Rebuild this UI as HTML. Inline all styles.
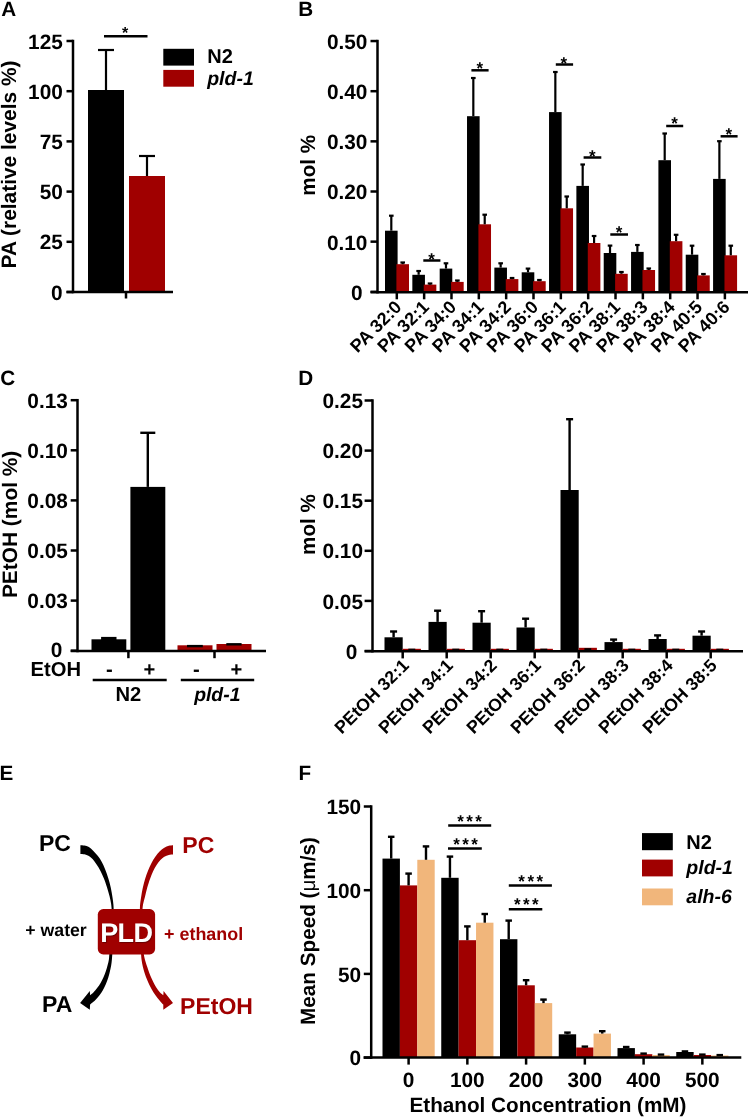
<!DOCTYPE html>
<html><head><meta charset="utf-8"><title>Figure</title>
<style>
html,body{margin:0;padding:0;background:#fff;overflow:hidden;}
svg{display:block;will-change:transform;}
text{font-family:"Liberation Sans",sans-serif;font-weight:bold;text-rendering:geometricPrecision;}
</style></head><body>
<svg width="750" height="1118" viewBox="0 0 750 1118">
<rect width="750" height="1118" fill="#fff"/>
<text x="1.2" y="15.8" font-size="20.7" text-anchor="start" >A</text>
<text x="298.3" y="16" font-size="20.7" text-anchor="start" >B</text>
<text x="0.2" y="384.7" font-size="20.7" text-anchor="start" >C</text>
<text x="298.3" y="385" font-size="20.7" text-anchor="start" >D</text>
<text x="-0.5" y="780.2" font-size="20.7" text-anchor="start" >E</text>
<text x="298.5" y="779.8" font-size="20.7" text-anchor="start" >F</text>
<line x1="73" y1="39.75" x2="73" y2="293.25" stroke="#000" stroke-width="2.5"/>
<line x1="66.5" y1="292" x2="73" y2="292" stroke="#000" stroke-width="2.5"/>
<text x="62.6" y="299.6" font-size="20.8" text-anchor="end" >0</text>
<line x1="66.5" y1="241.8" x2="73" y2="241.8" stroke="#000" stroke-width="2.5"/>
<text x="62.8" y="249.4" font-size="20.8" text-anchor="end" >25</text>
<line x1="66.5" y1="191.6" x2="73" y2="191.6" stroke="#000" stroke-width="2.5"/>
<text x="62.8" y="199.2" font-size="20.8" text-anchor="end" >50</text>
<line x1="66.5" y1="141.4" x2="73" y2="141.4" stroke="#000" stroke-width="2.5"/>
<text x="62.8" y="149" font-size="20.8" text-anchor="end" >75</text>
<line x1="66.5" y1="91.2" x2="73" y2="91.2" stroke="#000" stroke-width="2.5"/>
<text x="62.8" y="98.8" font-size="20.8" text-anchor="end" >100</text>
<line x1="66.5" y1="41" x2="73" y2="41" stroke="#000" stroke-width="2.5"/>
<text x="62.8" y="48.6" font-size="20.8" text-anchor="end" >125</text>
<line x1="126" y1="292" x2="126" y2="298.5" stroke="#000" stroke-width="2.5"/>
<rect x="88" y="90" width="36" height="202" fill="#000"/>
<line x1="106" y1="90" x2="106" y2="50" stroke="#000" stroke-width="2.2"/>
<line x1="98" y1="50" x2="114" y2="50" stroke="#000" stroke-width="2.2"/>
<rect x="129" y="176" width="36" height="116" fill="#a00000"/>
<line x1="147" y1="176" x2="147" y2="156" stroke="#000" stroke-width="2.2"/>
<line x1="139" y1="156" x2="155" y2="156" stroke="#000" stroke-width="2.2"/>
<line x1="104" y1="36.3" x2="147.5" y2="36.3" stroke="#000" stroke-width="2.5"/>
<text x="125" y="38.16" font-size="16" text-anchor="middle" font-weight="normal">*</text>
<rect x="163.3" y="48.8" width="30.7" height="16.8" fill="#000"/>
<rect x="163.3" y="69.9" width="30.7" height="16.8" fill="#a00000"/>
<text x="207.3" y="63.4" font-size="20" text-anchor="start" >N2</text>
<text x="207.2" y="85" font-size="19.5" text-anchor="start" ><tspan font-style="italic">pld-1</tspan></text>
<text transform="translate(16.3,164.5) rotate(-90)" font-size="20.9" text-anchor="middle">PA (relative levels %)</text>
<line x1="377.5" y1="39.8" x2="377.5" y2="293.45" stroke="#000" stroke-width="2.5"/>
<line x1="370.5" y1="291.8" x2="377.5" y2="291.8" stroke="#000" stroke-width="2.5"/>
<text x="362.6" y="299.7" font-size="20.8" text-anchor="end" >0</text>
<line x1="370.5" y1="241.65" x2="377.5" y2="241.65" stroke="#000" stroke-width="2.5"/>
<text x="367.4" y="249.55" font-size="20.8" text-anchor="end" >0.10</text>
<line x1="370.5" y1="191.5" x2="377.5" y2="191.5" stroke="#000" stroke-width="2.5"/>
<text x="367.4" y="199.4" font-size="20.8" text-anchor="end" >0.20</text>
<line x1="370.5" y1="141.35" x2="377.5" y2="141.35" stroke="#000" stroke-width="2.5"/>
<text x="367.4" y="149.25" font-size="20.8" text-anchor="end" >0.30</text>
<line x1="370.5" y1="91.2" x2="377.5" y2="91.2" stroke="#000" stroke-width="2.5"/>
<text x="367.4" y="99.1" font-size="20.8" text-anchor="end" >0.40</text>
<line x1="370.5" y1="41.05" x2="377.5" y2="41.05" stroke="#000" stroke-width="2.5"/>
<text x="367.4" y="48.95" font-size="20.8" text-anchor="end" >0.50</text>
<rect x="385" y="230.7" width="12.6" height="61.5" fill="#000"/>
<rect x="396.4" y="264.2" width="12.6" height="28" fill="#a00000"/>
<line x1="391.3" y1="230.7" x2="391.3" y2="215.7" stroke="#000" stroke-width="2.2"/>
<line x1="389" y1="215.7" x2="393.6" y2="215.7" stroke="#000" stroke-width="2.2"/>
<line x1="402.7" y1="264.2" x2="402.7" y2="262.5" stroke="#000" stroke-width="2.2"/>
<line x1="400.4" y1="262.5" x2="405" y2="262.5" stroke="#000" stroke-width="2.2"/>
<rect x="412.34" y="274.8" width="12.6" height="17.4" fill="#000"/>
<rect x="423.74" y="284.6" width="12.6" height="7.6" fill="#a00000"/>
<line x1="418.64" y1="274.8" x2="418.64" y2="271" stroke="#000" stroke-width="2.2"/>
<line x1="416.34" y1="271" x2="420.94" y2="271" stroke="#000" stroke-width="2.2"/>
<line x1="430.04" y1="284.6" x2="430.04" y2="283.5" stroke="#000" stroke-width="2.2"/>
<line x1="427.74" y1="283.5" x2="432.34" y2="283.5" stroke="#000" stroke-width="2.2"/>
<rect x="439.68" y="268.6" width="12.6" height="23.6" fill="#000"/>
<rect x="451.08" y="281.9" width="12.6" height="10.3" fill="#a00000"/>
<line x1="445.98" y1="268.6" x2="445.98" y2="263.3" stroke="#000" stroke-width="2.2"/>
<line x1="443.68" y1="263.3" x2="448.28" y2="263.3" stroke="#000" stroke-width="2.2"/>
<line x1="457.38" y1="281.9" x2="457.38" y2="280.5" stroke="#000" stroke-width="2.2"/>
<line x1="455.08" y1="280.5" x2="459.68" y2="280.5" stroke="#000" stroke-width="2.2"/>
<rect x="467.02" y="116.2" width="12.6" height="176" fill="#000"/>
<rect x="478.42" y="224.3" width="12.6" height="67.9" fill="#a00000"/>
<line x1="473.32" y1="116.2" x2="473.32" y2="78" stroke="#000" stroke-width="2.2"/>
<line x1="471.02" y1="78" x2="475.62" y2="78" stroke="#000" stroke-width="2.2"/>
<line x1="484.72" y1="224.3" x2="484.72" y2="214.7" stroke="#000" stroke-width="2.2"/>
<line x1="482.42" y1="214.7" x2="487.02" y2="214.7" stroke="#000" stroke-width="2.2"/>
<rect x="494.36" y="267.6" width="12.6" height="24.6" fill="#000"/>
<rect x="505.76" y="279.1" width="12.6" height="13.1" fill="#a00000"/>
<line x1="500.66" y1="267.6" x2="500.66" y2="263.3" stroke="#000" stroke-width="2.2"/>
<line x1="498.36" y1="263.3" x2="502.96" y2="263.3" stroke="#000" stroke-width="2.2"/>
<line x1="512.06" y1="279.1" x2="512.06" y2="278" stroke="#000" stroke-width="2.2"/>
<line x1="509.76" y1="278" x2="514.36" y2="278" stroke="#000" stroke-width="2.2"/>
<rect x="521.7" y="272.3" width="12.6" height="19.9" fill="#000"/>
<rect x="533.1" y="281.2" width="12.6" height="11" fill="#a00000"/>
<line x1="528" y1="272.3" x2="528" y2="268.6" stroke="#000" stroke-width="2.2"/>
<line x1="525.7" y1="268.6" x2="530.3" y2="268.6" stroke="#000" stroke-width="2.2"/>
<line x1="539.4" y1="281.2" x2="539.4" y2="280" stroke="#000" stroke-width="2.2"/>
<line x1="537.1" y1="280" x2="541.7" y2="280" stroke="#000" stroke-width="2.2"/>
<rect x="549.04" y="112.1" width="12.6" height="180.1" fill="#000"/>
<rect x="560.44" y="208.3" width="12.6" height="83.9" fill="#a00000"/>
<line x1="555.34" y1="112.1" x2="555.34" y2="72" stroke="#000" stroke-width="2.2"/>
<line x1="553.04" y1="72" x2="557.64" y2="72" stroke="#000" stroke-width="2.2"/>
<line x1="566.74" y1="208.3" x2="566.74" y2="196.5" stroke="#000" stroke-width="2.2"/>
<line x1="564.44" y1="196.5" x2="569.04" y2="196.5" stroke="#000" stroke-width="2.2"/>
<rect x="576.38" y="185.9" width="12.6" height="106.3" fill="#000"/>
<rect x="587.78" y="243" width="12.6" height="49.2" fill="#a00000"/>
<line x1="582.68" y1="185.9" x2="582.68" y2="164.5" stroke="#000" stroke-width="2.2"/>
<line x1="580.38" y1="164.5" x2="584.98" y2="164.5" stroke="#000" stroke-width="2.2"/>
<line x1="594.08" y1="243" x2="594.08" y2="236" stroke="#000" stroke-width="2.2"/>
<line x1="591.78" y1="236" x2="596.38" y2="236" stroke="#000" stroke-width="2.2"/>
<rect x="603.72" y="253" width="12.6" height="39.2" fill="#000"/>
<rect x="615.12" y="273.8" width="12.6" height="18.4" fill="#a00000"/>
<line x1="610.02" y1="253" x2="610.02" y2="245.6" stroke="#000" stroke-width="2.2"/>
<line x1="607.72" y1="245.6" x2="612.32" y2="245.6" stroke="#000" stroke-width="2.2"/>
<line x1="621.42" y1="273.8" x2="621.42" y2="272" stroke="#000" stroke-width="2.2"/>
<line x1="619.12" y1="272" x2="623.72" y2="272" stroke="#000" stroke-width="2.2"/>
<rect x="631.06" y="251.9" width="12.6" height="40.3" fill="#000"/>
<rect x="642.46" y="270" width="12.6" height="22.2" fill="#a00000"/>
<line x1="637.36" y1="251.9" x2="637.36" y2="245" stroke="#000" stroke-width="2.2"/>
<line x1="635.06" y1="245" x2="639.66" y2="245" stroke="#000" stroke-width="2.2"/>
<line x1="648.76" y1="270" x2="648.76" y2="268.5" stroke="#000" stroke-width="2.2"/>
<line x1="646.46" y1="268.5" x2="651.06" y2="268.5" stroke="#000" stroke-width="2.2"/>
<rect x="658.4" y="160.2" width="12.6" height="132" fill="#000"/>
<rect x="669.8" y="241.2" width="12.6" height="51" fill="#a00000"/>
<line x1="664.7" y1="160.2" x2="664.7" y2="133.5" stroke="#000" stroke-width="2.2"/>
<line x1="662.4" y1="133.5" x2="667" y2="133.5" stroke="#000" stroke-width="2.2"/>
<line x1="676.1" y1="241.2" x2="676.1" y2="234.8" stroke="#000" stroke-width="2.2"/>
<line x1="673.8" y1="234.8" x2="678.4" y2="234.8" stroke="#000" stroke-width="2.2"/>
<rect x="685.74" y="254.7" width="12.6" height="37.5" fill="#000"/>
<rect x="697.14" y="275.4" width="12.6" height="16.8" fill="#a00000"/>
<line x1="692.04" y1="254.7" x2="692.04" y2="245.7" stroke="#000" stroke-width="2.2"/>
<line x1="689.74" y1="245.7" x2="694.34" y2="245.7" stroke="#000" stroke-width="2.2"/>
<line x1="703.44" y1="275.4" x2="703.44" y2="274" stroke="#000" stroke-width="2.2"/>
<line x1="701.14" y1="274" x2="705.74" y2="274" stroke="#000" stroke-width="2.2"/>
<rect x="713.08" y="178.9" width="12.6" height="113.3" fill="#000"/>
<rect x="724.48" y="255.3" width="12.6" height="36.9" fill="#a00000"/>
<line x1="719.38" y1="178.9" x2="719.38" y2="141.2" stroke="#000" stroke-width="2.2"/>
<line x1="717.08" y1="141.2" x2="721.68" y2="141.2" stroke="#000" stroke-width="2.2"/>
<line x1="730.78" y1="255.3" x2="730.78" y2="245.7" stroke="#000" stroke-width="2.2"/>
<line x1="728.48" y1="245.7" x2="733.08" y2="245.7" stroke="#000" stroke-width="2.2"/>
<line x1="396.8" y1="292.2" x2="396.8" y2="299.3" stroke="#000" stroke-width="2.5"/>
<line x1="424.14" y1="292.2" x2="424.14" y2="299.3" stroke="#000" stroke-width="2.5"/>
<line x1="451.48" y1="292.2" x2="451.48" y2="299.3" stroke="#000" stroke-width="2.5"/>
<line x1="478.82" y1="292.2" x2="478.82" y2="299.3" stroke="#000" stroke-width="2.5"/>
<line x1="506.16" y1="292.2" x2="506.16" y2="299.3" stroke="#000" stroke-width="2.5"/>
<line x1="533.5" y1="292.2" x2="533.5" y2="299.3" stroke="#000" stroke-width="2.5"/>
<line x1="560.84" y1="292.2" x2="560.84" y2="299.3" stroke="#000" stroke-width="2.5"/>
<line x1="588.18" y1="292.2" x2="588.18" y2="299.3" stroke="#000" stroke-width="2.5"/>
<line x1="615.52" y1="292.2" x2="615.52" y2="299.3" stroke="#000" stroke-width="2.5"/>
<line x1="642.86" y1="292.2" x2="642.86" y2="299.3" stroke="#000" stroke-width="2.5"/>
<line x1="670.2" y1="292.2" x2="670.2" y2="299.3" stroke="#000" stroke-width="2.5"/>
<line x1="697.54" y1="292.2" x2="697.54" y2="299.3" stroke="#000" stroke-width="2.5"/>
<line x1="724.88" y1="292.2" x2="724.88" y2="299.3" stroke="#000" stroke-width="2.5"/>
<line x1="423.3" y1="260.5" x2="440.4" y2="260.5" stroke="#000" stroke-width="2.5"/>
<text x="431.6" y="265.17" font-size="17" text-anchor="middle" font-weight="normal">*</text>
<line x1="471.4" y1="70.3" x2="488.6" y2="70.3" stroke="#000" stroke-width="2.5"/>
<text x="479.7" y="74.07" font-size="17" text-anchor="middle" font-weight="normal">*</text>
<line x1="555.8" y1="64.5" x2="573.1" y2="64.5" stroke="#000" stroke-width="2.5"/>
<text x="563.9" y="68.57" font-size="17" text-anchor="middle" font-weight="normal">*</text>
<line x1="583.6" y1="157.5" x2="601.3" y2="157.5" stroke="#000" stroke-width="2.5"/>
<text x="592.3" y="161.67" font-size="17" text-anchor="middle" font-weight="normal">*</text>
<line x1="610.3" y1="234.5" x2="628" y2="234.5" stroke="#000" stroke-width="2.5"/>
<text x="619" y="238.47" font-size="17" text-anchor="middle" font-weight="normal">*</text>
<line x1="666.2" y1="126" x2="683.2" y2="126" stroke="#000" stroke-width="2.5"/>
<text x="674.5" y="129.17" font-size="17" text-anchor="middle" font-weight="normal">*</text>
<line x1="720.6" y1="136.3" x2="737.6" y2="136.3" stroke="#000" stroke-width="2.5"/>
<text x="728.9" y="140.47" font-size="17" text-anchor="middle" font-weight="normal">*</text>
<text transform="translate(402.7,308.2) rotate(-45)" font-size="18" text-anchor="end">PA 32:0</text>
<text transform="translate(430.04,308.2) rotate(-45)" font-size="18" text-anchor="end">PA 32:1</text>
<text transform="translate(457.38,308.2) rotate(-45)" font-size="18" text-anchor="end">PA 34:0</text>
<text transform="translate(484.72,308.2) rotate(-45)" font-size="18" text-anchor="end">PA 34:1</text>
<text transform="translate(512.06,308.2) rotate(-45)" font-size="18" text-anchor="end">PA 34:2</text>
<text transform="translate(539.4,308.2) rotate(-45)" font-size="18" text-anchor="end">PA 36:0</text>
<text transform="translate(566.74,308.2) rotate(-45)" font-size="18" text-anchor="end">PA 36:1</text>
<text transform="translate(594.08,308.2) rotate(-45)" font-size="18" text-anchor="end">PA 36:2</text>
<text transform="translate(621.42,308.2) rotate(-45)" font-size="18" text-anchor="end">PA 38:1</text>
<text transform="translate(648.76,308.2) rotate(-45)" font-size="18" text-anchor="end">PA 38:3</text>
<text transform="translate(676.1,308.2) rotate(-45)" font-size="18" text-anchor="end">PA 38:4</text>
<text transform="translate(703.44,308.2) rotate(-45)" font-size="18" text-anchor="end">PA 40:5</text>
<text transform="translate(730.78,308.2) rotate(-45)" font-size="18" text-anchor="end">PA 40:6</text>
<text transform="translate(315,165.25) rotate(-90)" font-size="20.7" text-anchor="middle">mol %</text>
<line x1="77.5" y1="398.95" x2="77.5" y2="652.25" stroke="#000" stroke-width="2.5"/>
<line x1="70.7" y1="650.7" x2="77.5" y2="650.7" stroke="#000" stroke-width="2.5"/>
<text x="62.4" y="657.3" font-size="20.8" text-anchor="end" >0</text>
<line x1="70.7" y1="600.6" x2="77.5" y2="600.6" stroke="#000" stroke-width="2.5"/>
<text x="67.8" y="608.2" font-size="20.8" text-anchor="end" >0.03</text>
<line x1="70.7" y1="550.5" x2="77.5" y2="550.5" stroke="#000" stroke-width="2.5"/>
<text x="67.8" y="558.1" font-size="20.8" text-anchor="end" >0.05</text>
<line x1="70.7" y1="500.4" x2="77.5" y2="500.4" stroke="#000" stroke-width="2.5"/>
<text x="67.8" y="508" font-size="20.8" text-anchor="end" >0.08</text>
<line x1="70.7" y1="450.3" x2="77.5" y2="450.3" stroke="#000" stroke-width="2.5"/>
<text x="67.8" y="457.9" font-size="20.8" text-anchor="end" >0.10</text>
<line x1="70.7" y1="400.2" x2="77.5" y2="400.2" stroke="#000" stroke-width="2.5"/>
<text x="67.8" y="407.8" font-size="20.8" text-anchor="end" >0.13</text>
<line x1="128.4" y1="651" x2="128.4" y2="658.2" stroke="#000" stroke-width="2.5"/>
<line x1="214.5" y1="651" x2="214.5" y2="658.2" stroke="#000" stroke-width="2.5"/>
<rect x="91.5" y="639.3" width="34.8" height="11.4" fill="#000"/>
<rect x="101.1" y="636.9" width="15.4" height="3.1" fill="#000"/>
<rect x="130.4" y="486.9" width="34.9" height="163.8" fill="#000"/>
<line x1="147.8" y1="486.9" x2="147.8" y2="432.8" stroke="#000" stroke-width="2.4"/>
<line x1="140.3" y1="432.8" x2="155.3" y2="432.8" stroke="#000" stroke-width="2.4"/>
<rect x="177.5" y="645.3" width="35" height="5.4" fill="#a00000"/>
<line x1="187" y1="646.1" x2="202.8" y2="646.1" stroke="#000" stroke-width="2.4"/>
<rect x="216.5" y="644" width="35" height="6.7" fill="#a00000"/>
<line x1="226.3" y1="644.3" x2="241.6" y2="644.3" stroke="#000" stroke-width="2.4"/>
<text x="30.6" y="675.9" font-size="20.2" text-anchor="start" >EtOH</text>
<text x="109.4" y="676.1" font-size="20.2" text-anchor="middle" >-</text>
<text x="149.5" y="676.1" font-size="20.2" text-anchor="middle" >+</text>
<text x="196.3" y="676.1" font-size="20.2" text-anchor="middle" >-</text>
<text x="236.3" y="676.1" font-size="20.2" text-anchor="middle" >+</text>
<line x1="92.7" y1="680" x2="166.7" y2="680" stroke="#000" stroke-width="2.6"/>
<line x1="180.8" y1="680" x2="254.2" y2="680" stroke="#000" stroke-width="2.6"/>
<text x="128.3" y="700.8" font-size="20.2" text-anchor="middle" >N2</text>
<text x="217.3" y="700.8" font-size="19.4" text-anchor="middle" ><tspan font-style="italic">pld-1</tspan></text>
<text transform="translate(16.5,524.4) rotate(-90)" font-size="20.9" text-anchor="middle">PEtOH (mol %)</text>
<line x1="372.5" y1="399.25" x2="372.5" y2="652.45" stroke="#000" stroke-width="2.5"/>
<line x1="364.6" y1="651" x2="372.5" y2="651" stroke="#000" stroke-width="2.5"/>
<text x="357.4" y="658.6" font-size="20.8" text-anchor="end" >0</text>
<line x1="364.6" y1="600.9" x2="372.5" y2="600.9" stroke="#000" stroke-width="2.5"/>
<text x="363" y="608.5" font-size="20.8" text-anchor="end" >0.05</text>
<line x1="364.6" y1="550.8" x2="372.5" y2="550.8" stroke="#000" stroke-width="2.5"/>
<text x="363" y="558.4" font-size="20.8" text-anchor="end" >0.10</text>
<line x1="364.6" y1="500.7" x2="372.5" y2="500.7" stroke="#000" stroke-width="2.5"/>
<text x="363" y="508.3" font-size="20.8" text-anchor="end" >0.15</text>
<line x1="364.6" y1="450.6" x2="372.5" y2="450.6" stroke="#000" stroke-width="2.5"/>
<text x="363" y="458.2" font-size="20.8" text-anchor="end" >0.20</text>
<line x1="364.6" y1="400.5" x2="372.5" y2="400.5" stroke="#000" stroke-width="2.5"/>
<text x="363" y="408.1" font-size="20.8" text-anchor="end" >0.25</text>
<rect x="384.5" y="637.3" width="18.2" height="13.9" fill="#000"/>
<line x1="393.6" y1="637.3" x2="393.6" y2="631.5" stroke="#000" stroke-width="2.4"/>
<line x1="390.1" y1="631.5" x2="397.1" y2="631.5" stroke="#000" stroke-width="2.4"/>
<rect x="402.7" y="648.8" width="18.2" height="2.4" fill="#a00000"/>
<line x1="408.3" y1="649.3" x2="415.3" y2="649.3" stroke="#000" stroke-width="1.3"/>
<rect x="428.5" y="621.9" width="18.2" height="29.3" fill="#000"/>
<line x1="437.6" y1="621.9" x2="437.6" y2="610.7" stroke="#000" stroke-width="2.4"/>
<line x1="434.1" y1="610.7" x2="441.1" y2="610.7" stroke="#000" stroke-width="2.4"/>
<rect x="446.7" y="648.8" width="18.2" height="2.4" fill="#a00000"/>
<line x1="452.3" y1="649.3" x2="459.3" y2="649.3" stroke="#000" stroke-width="1.3"/>
<rect x="472.5" y="622.7" width="18.2" height="28.5" fill="#000"/>
<line x1="481.6" y1="622.7" x2="481.6" y2="611.2" stroke="#000" stroke-width="2.4"/>
<line x1="478.1" y1="611.2" x2="485.1" y2="611.2" stroke="#000" stroke-width="2.4"/>
<rect x="490.7" y="648.8" width="18.2" height="2.4" fill="#a00000"/>
<line x1="496.3" y1="649.3" x2="503.3" y2="649.3" stroke="#000" stroke-width="1.3"/>
<rect x="516.5" y="627.5" width="18.2" height="23.7" fill="#000"/>
<line x1="525.6" y1="627.5" x2="525.6" y2="618.7" stroke="#000" stroke-width="2.4"/>
<line x1="522.1" y1="618.7" x2="529.1" y2="618.7" stroke="#000" stroke-width="2.4"/>
<rect x="534.7" y="648.8" width="18.2" height="2.4" fill="#a00000"/>
<line x1="540.3" y1="649.3" x2="547.3" y2="649.3" stroke="#000" stroke-width="1.3"/>
<rect x="560.5" y="490" width="18.2" height="161.2" fill="#000"/>
<line x1="569.6" y1="490" x2="569.6" y2="419.2" stroke="#000" stroke-width="2.4"/>
<line x1="566.1" y1="419.2" x2="573.1" y2="419.2" stroke="#000" stroke-width="2.4"/>
<rect x="578.7" y="647.8" width="18.2" height="3.4" fill="#a00000"/>
<rect x="584.4" y="648.2" width="6.8" height="2.2" fill="#000"/>
<rect x="604.5" y="642.1" width="18.2" height="9.1" fill="#000"/>
<line x1="613.6" y1="642.1" x2="613.6" y2="639.6" stroke="#000" stroke-width="2.4"/>
<line x1="610.1" y1="639.6" x2="617.1" y2="639.6" stroke="#000" stroke-width="2.4"/>
<rect x="622.7" y="648.8" width="18.2" height="2.4" fill="#a00000"/>
<line x1="628.3" y1="649.3" x2="635.3" y2="649.3" stroke="#000" stroke-width="1.3"/>
<rect x="648.5" y="639" width="18.2" height="12.2" fill="#000"/>
<line x1="657.6" y1="639" x2="657.6" y2="635.4" stroke="#000" stroke-width="2.4"/>
<line x1="654.1" y1="635.4" x2="661.1" y2="635.4" stroke="#000" stroke-width="2.4"/>
<rect x="666.7" y="648.8" width="18.2" height="2.4" fill="#a00000"/>
<line x1="672.3" y1="649.3" x2="679.3" y2="649.3" stroke="#000" stroke-width="1.3"/>
<rect x="692.5" y="635.7" width="18.2" height="15.5" fill="#000"/>
<line x1="701.6" y1="635.7" x2="701.6" y2="631.5" stroke="#000" stroke-width="2.4"/>
<line x1="698.1" y1="631.5" x2="705.1" y2="631.5" stroke="#000" stroke-width="2.4"/>
<rect x="710.7" y="648.8" width="18.2" height="2.4" fill="#a00000"/>
<line x1="716.3" y1="649.3" x2="723.3" y2="649.3" stroke="#000" stroke-width="1.3"/>
<line x1="402.7" y1="651.2" x2="402.7" y2="658.4" stroke="#000" stroke-width="2.5"/>
<line x1="446.7" y1="651.2" x2="446.7" y2="658.4" stroke="#000" stroke-width="2.5"/>
<line x1="490.7" y1="651.2" x2="490.7" y2="658.4" stroke="#000" stroke-width="2.5"/>
<line x1="534.7" y1="651.2" x2="534.7" y2="658.4" stroke="#000" stroke-width="2.5"/>
<line x1="578.7" y1="651.2" x2="578.7" y2="658.4" stroke="#000" stroke-width="2.5"/>
<line x1="622.7" y1="651.2" x2="622.7" y2="658.4" stroke="#000" stroke-width="2.5"/>
<line x1="666.7" y1="651.2" x2="666.7" y2="658.4" stroke="#000" stroke-width="2.5"/>
<line x1="710.7" y1="651.2" x2="710.7" y2="658.4" stroke="#000" stroke-width="2.5"/>
<text transform="translate(409.9,666.6) rotate(-45)" font-size="17.7" text-anchor="end">PEtOH 32:1</text>
<text transform="translate(453.9,666.6) rotate(-45)" font-size="17.7" text-anchor="end">PEtOH 34:1</text>
<text transform="translate(497.9,666.6) rotate(-45)" font-size="17.7" text-anchor="end">PEtOH 34:2</text>
<text transform="translate(541.9,666.6) rotate(-45)" font-size="17.7" text-anchor="end">PEtOH 36:1</text>
<text transform="translate(585.9,666.6) rotate(-45)" font-size="17.7" text-anchor="end">PEtOH 36:2</text>
<text transform="translate(629.9,666.6) rotate(-45)" font-size="17.7" text-anchor="end">PEtOH 38:3</text>
<text transform="translate(673.9,666.6) rotate(-45)" font-size="17.7" text-anchor="end">PEtOH 38:4</text>
<text transform="translate(717.9,666.6) rotate(-45)" font-size="17.7" text-anchor="end">PEtOH 38:5</text>
<text transform="translate(315,524.5) rotate(-90)" font-size="20.7" text-anchor="middle">mol %</text>
<path d="M80.40,845.20 C81.07,845.25 82.98,845.18 84.40,845.50 C85.82,845.82 87.40,846.18 88.90,847.10 C90.40,848.02 91.90,849.50 93.40,851.00 C94.90,852.50 96.50,854.28 97.90,856.10 C99.30,857.92 100.62,859.75 101.80,861.90 C102.98,864.05 103.93,866.32 105.00,869.00 C106.07,871.68 107.23,874.88 108.20,878.00 C109.17,881.12 110.10,884.58 110.80,887.70 C111.50,890.82 111.97,893.92 112.40,896.70 C112.83,899.48 113.18,902.02 113.40,904.40 C113.62,906.78 113.65,909.90 113.70,911.00 L111.80,911.00 C111.68,909.80 111.48,906.28 111.10,903.80 C110.72,901.32 110.20,898.90 109.50,896.10 C108.80,893.30 107.87,890.02 106.90,887.00 C105.93,883.98 104.77,880.68 103.70,878.00 C102.63,875.32 101.68,873.15 100.50,870.90 C99.32,868.65 97.88,866.43 96.60,864.50 C95.32,862.57 94.08,860.70 92.80,859.30 C91.52,857.90 90.30,856.93 88.90,856.10 C87.50,855.27 85.82,854.67 84.40,854.30 C82.98,853.93 81.07,853.97 80.40,853.90 Z" fill="#000"/>
<path d="M173.00,845.20 C172.30,845.30 170.25,845.38 168.80,845.80 C167.35,846.22 165.80,846.78 164.30,847.70 C162.80,848.62 161.30,849.78 159.80,851.30 C158.30,852.82 156.70,854.82 155.30,856.80 C153.90,858.78 152.63,860.85 151.40,863.20 C150.17,865.55 148.97,868.22 147.90,870.90 C146.83,873.58 145.87,876.40 145.00,879.30 C144.13,882.20 143.35,885.30 142.70,888.30 C142.05,891.30 141.53,894.62 141.10,897.30 C140.67,899.98 140.30,902.12 140.10,904.40 C139.90,906.68 139.93,909.90 139.90,911.00 L142.40,911.00 C142.50,909.90 142.57,906.78 143.00,904.40 C143.43,902.02 144.30,899.48 145.00,896.70 C145.70,893.92 146.35,890.70 147.20,887.70 C148.05,884.70 149.13,881.38 150.10,878.70 C151.07,876.02 151.92,873.87 153.00,871.60 C154.08,869.33 155.37,867.03 156.60,865.10 C157.83,863.17 159.12,861.38 160.40,860.00 C161.68,858.62 162.90,857.65 164.30,856.80 C165.70,855.95 167.35,855.28 168.80,854.90 C170.25,854.52 172.30,854.57 173.00,854.50 Z" fill="#a00000"/>
<path d="M112.40,953.00 C112.32,954.07 112.10,957.35 111.90,959.40 C111.70,961.45 111.52,963.35 111.20,965.30 C110.88,967.25 110.48,969.05 110.00,971.10 C109.52,973.15 108.98,975.45 108.30,977.60 C107.62,979.75 106.78,981.95 105.90,984.00 C105.02,986.05 104.07,988.03 103.00,989.90 C101.93,991.77 100.77,993.53 99.50,995.20 C98.23,996.87 96.68,998.58 95.40,999.90 C94.12,1001.22 92.68,1002.32 91.80,1003.10 C90.92,1003.88 90.38,1004.35 90.10,1004.60 L89.80,1009.80 L80.10,1003.10 L89.80,991.10 L90.10,995.20 L90.10,995.20 C90.68,994.70 92.43,993.38 93.60,992.20 C94.77,991.02 95.93,989.65 97.10,988.10 C98.27,986.55 99.52,984.75 100.60,982.90 C101.68,981.05 102.72,978.97 103.60,977.00 C104.48,975.03 105.22,973.15 105.90,971.10 C106.58,969.05 107.20,966.65 107.70,964.70 C108.20,962.75 108.62,961.35 108.90,959.40 C109.18,957.45 109.32,954.07 109.40,953.00 Z" fill="#000"/>
<path d="M141.00,953.00 C141.10,954.17 141.30,957.77 141.60,960.00 C141.90,962.23 142.30,964.25 142.80,966.40 C143.30,968.55 143.92,970.75 144.60,972.90 C145.28,975.05 146.03,977.15 146.90,979.30 C147.77,981.45 148.72,983.65 149.80,985.80 C150.88,987.95 152.12,990.15 153.40,992.20 C154.68,994.25 156.23,996.43 157.50,998.10 C158.77,999.77 160.03,1001.12 161.00,1002.20 C161.97,1003.28 162.92,1004.20 163.30,1004.60 L163.30,1009.80 L173.00,1003.10 L163.60,991.10 L163.30,995.20 L163.30,995.20 C162.72,994.70 160.97,993.48 159.80,992.20 C158.63,990.92 157.37,989.15 156.30,987.50 C155.23,985.85 154.38,984.25 153.40,982.30 C152.42,980.35 151.28,977.95 150.40,975.80 C149.52,973.65 148.88,971.65 148.10,969.40 C147.32,967.15 146.33,964.37 145.70,962.30 C145.07,960.23 144.63,958.55 144.30,957.00 C143.97,955.45 143.80,953.67 143.70,953.00 Z" fill="#a00000"/>
<rect x="97.8" y="909.1" width="57.3" height="45.3" rx="5.5" fill="#a00000"/>
<text x="126.3" y="942.4" font-size="27" letter-spacing="-0.6" text-anchor="middle" fill="#fff" style="text-shadow:0.7px 0.7px 0.8px rgba(60,0,0,0.55)">PLD</text>
<text x="38.9" y="850.8" font-size="23" text-anchor="start" >PC</text>
<text x="182.3" y="853.4" font-size="23" fill="#a00000">PC</text>
<text x="25.3" y="936" font-size="17.7" text-anchor="start" >+ water</text>
<text x="164.1" y="940" font-size="17.9" fill="#a00000">+ ethanol</text>
<text x="42" y="1011.8" font-size="23" text-anchor="start" >PA</text>
<text x="180.1" y="1013.8" font-size="23" fill="#a00000">PEtOH</text>
<line x1="371.2" y1="805.25" x2="371.2" y2="1058.85" stroke="#000" stroke-width="2.5"/>
<line x1="363.8" y1="1057.6" x2="371.2" y2="1057.6" stroke="#000" stroke-width="2.5"/>
<text x="361.1" y="1065.4" font-size="20.8" text-anchor="end" >0</text>
<line x1="363.8" y1="973.9" x2="371.2" y2="973.9" stroke="#000" stroke-width="2.5"/>
<text x="361.1" y="981.7" font-size="20.8" text-anchor="end" >50</text>
<line x1="363.8" y1="890.2" x2="371.2" y2="890.2" stroke="#000" stroke-width="2.5"/>
<text x="361.1" y="898" font-size="20.8" text-anchor="end" >100</text>
<line x1="363.8" y1="806.5" x2="371.2" y2="806.5" stroke="#000" stroke-width="2.5"/>
<text x="361.1" y="814.3" font-size="20.8" text-anchor="end" >150</text>
<rect x="382.5" y="858.6" width="17.4" height="199" fill="#000"/>
<line x1="391.2" y1="858.6" x2="391.2" y2="836.8" stroke="#000" stroke-width="2.4"/>
<line x1="387.95" y1="836.8" x2="394.45" y2="836.8" stroke="#000" stroke-width="2.4"/>
<rect x="399.9" y="885.4" width="17.4" height="172.2" fill="#a00000"/>
<line x1="408.6" y1="885.4" x2="408.6" y2="873.6" stroke="#000" stroke-width="2.4"/>
<line x1="405.35" y1="873.6" x2="411.85" y2="873.6" stroke="#000" stroke-width="2.4"/>
<rect x="417.3" y="859.8" width="17.4" height="197.8" fill="#f1b67b"/>
<line x1="426" y1="859.8" x2="426" y2="846.4" stroke="#000" stroke-width="2.4"/>
<line x1="422.75" y1="846.4" x2="429.25" y2="846.4" stroke="#000" stroke-width="2.4"/>
<rect x="441.25" y="877.8" width="17.4" height="179.8" fill="#000"/>
<line x1="449.95" y1="877.8" x2="449.95" y2="856.6" stroke="#000" stroke-width="2.4"/>
<line x1="446.7" y1="856.6" x2="453.2" y2="856.6" stroke="#000" stroke-width="2.4"/>
<rect x="458.65" y="940.2" width="17.4" height="117.4" fill="#a00000"/>
<line x1="467.35" y1="940.2" x2="467.35" y2="926.4" stroke="#000" stroke-width="2.4"/>
<line x1="464.1" y1="926.4" x2="470.6" y2="926.4" stroke="#000" stroke-width="2.4"/>
<rect x="476.05" y="922.7" width="17.4" height="134.9" fill="#f1b67b"/>
<line x1="484.75" y1="922.7" x2="484.75" y2="914" stroke="#000" stroke-width="2.4"/>
<line x1="481.5" y1="914" x2="488" y2="914" stroke="#000" stroke-width="2.4"/>
<rect x="500" y="939.2" width="17.4" height="118.4" fill="#000"/>
<line x1="508.7" y1="939.2" x2="508.7" y2="920.6" stroke="#000" stroke-width="2.4"/>
<line x1="505.45" y1="920.6" x2="511.95" y2="920.6" stroke="#000" stroke-width="2.4"/>
<rect x="517.4" y="985.3" width="17.4" height="72.3" fill="#a00000"/>
<line x1="526.1" y1="985.3" x2="526.1" y2="980.2" stroke="#000" stroke-width="2.4"/>
<line x1="522.85" y1="980.2" x2="529.35" y2="980.2" stroke="#000" stroke-width="2.4"/>
<rect x="534.8" y="1003.1" width="17.4" height="54.5" fill="#f1b67b"/>
<line x1="543.5" y1="1003.1" x2="543.5" y2="999.6" stroke="#000" stroke-width="2.4"/>
<line x1="540.25" y1="999.6" x2="546.75" y2="999.6" stroke="#000" stroke-width="2.4"/>
<rect x="558.75" y="1034.3" width="17.4" height="23.3" fill="#000"/>
<line x1="567.45" y1="1034.3" x2="567.45" y2="1032.6" stroke="#000" stroke-width="2.4"/>
<line x1="564.2" y1="1032.6" x2="570.7" y2="1032.6" stroke="#000" stroke-width="2.4"/>
<rect x="576.15" y="1047.5" width="17.4" height="10.1" fill="#a00000"/>
<line x1="584.85" y1="1047.5" x2="584.85" y2="1046.6" stroke="#000" stroke-width="2.4"/>
<line x1="581.6" y1="1046.6" x2="588.1" y2="1046.6" stroke="#000" stroke-width="2.4"/>
<rect x="593.55" y="1033.6" width="17.4" height="24" fill="#f1b67b"/>
<line x1="602.25" y1="1033.6" x2="602.25" y2="1031.2" stroke="#000" stroke-width="2.4"/>
<line x1="599" y1="1031.2" x2="605.5" y2="1031.2" stroke="#000" stroke-width="2.4"/>
<rect x="617.5" y="1048.1" width="17.4" height="9.5" fill="#000"/>
<line x1="626.2" y1="1048.1" x2="626.2" y2="1047" stroke="#000" stroke-width="2.4"/>
<line x1="622.95" y1="1047" x2="629.45" y2="1047" stroke="#000" stroke-width="2.4"/>
<rect x="634.9" y="1054.2" width="17.4" height="3.4" fill="#a00000"/>
<line x1="643.6" y1="1054.2" x2="643.6" y2="1053.6" stroke="#000" stroke-width="2.4"/>
<line x1="640.35" y1="1053.6" x2="646.85" y2="1053.6" stroke="#000" stroke-width="2.4"/>
<rect x="652.3" y="1055" width="17.4" height="2.6" fill="#f1b67b"/>
<line x1="661" y1="1055" x2="661" y2="1054.6" stroke="#000" stroke-width="2.4"/>
<line x1="657.75" y1="1054.6" x2="664.25" y2="1054.6" stroke="#000" stroke-width="2.4"/>
<rect x="676.25" y="1052" width="17.4" height="5.6" fill="#000"/>
<line x1="684.95" y1="1052" x2="684.95" y2="1051.4" stroke="#000" stroke-width="2.4"/>
<line x1="681.7" y1="1051.4" x2="688.2" y2="1051.4" stroke="#000" stroke-width="2.4"/>
<rect x="693.65" y="1055" width="17.4" height="2.6" fill="#a00000"/>
<line x1="702.35" y1="1055" x2="702.35" y2="1054.6" stroke="#000" stroke-width="2.4"/>
<line x1="699.1" y1="1054.6" x2="705.6" y2="1054.6" stroke="#000" stroke-width="2.4"/>
<rect x="711.05" y="1055.5" width="17.4" height="2.1" fill="#f1b67b"/>
<line x1="719.75" y1="1055.5" x2="719.75" y2="1055.1" stroke="#000" stroke-width="2.4"/>
<line x1="716.5" y1="1055.1" x2="723" y2="1055.1" stroke="#000" stroke-width="2.4"/>
<line x1="408.6" y1="1057.6" x2="408.6" y2="1064.6" stroke="#000" stroke-width="2.5"/>
<text x="408.6" y="1087" font-size="20.8" text-anchor="middle" >0</text>
<line x1="467.35" y1="1057.6" x2="467.35" y2="1064.6" stroke="#000" stroke-width="2.5"/>
<text x="467.35" y="1087" font-size="20.8" text-anchor="middle" >100</text>
<line x1="526.1" y1="1057.6" x2="526.1" y2="1064.6" stroke="#000" stroke-width="2.5"/>
<text x="526.1" y="1087" font-size="20.8" text-anchor="middle" >200</text>
<line x1="584.85" y1="1057.6" x2="584.85" y2="1064.6" stroke="#000" stroke-width="2.5"/>
<text x="584.85" y="1087" font-size="20.8" text-anchor="middle" >300</text>
<line x1="643.6" y1="1057.6" x2="643.6" y2="1064.6" stroke="#000" stroke-width="2.5"/>
<text x="643.6" y="1087" font-size="20.8" text-anchor="middle" >400</text>
<line x1="702.35" y1="1057.6" x2="702.35" y2="1064.6" stroke="#000" stroke-width="2.5"/>
<text x="702.35" y="1087" font-size="20.8" text-anchor="middle" >500</text>
<line x1="448.2" y1="825.4" x2="491.2" y2="825.4" stroke="#000" stroke-width="2.5"/>
<text x="470.8" y="827.17" font-size="17" text-anchor="middle" font-weight="normal" letter-spacing="2.4">***</text>
<line x1="448" y1="848.6" x2="481.8" y2="848.6" stroke="#000" stroke-width="2.5"/>
<text x="466.8" y="850.07" font-size="17" text-anchor="middle" font-weight="normal" letter-spacing="2.4">***</text>
<line x1="508.8" y1="885.6" x2="551.9" y2="885.6" stroke="#000" stroke-width="2.5"/>
<text x="531.9" y="887.37" font-size="17" text-anchor="middle" font-weight="normal" letter-spacing="2.4">***</text>
<line x1="508.8" y1="909.3" x2="542.3" y2="909.3" stroke="#000" stroke-width="2.5"/>
<text x="527.6" y="910.17" font-size="17" text-anchor="middle" font-weight="normal" letter-spacing="2.4">***</text>
<rect x="642" y="833.1" width="30.8" height="17.1" fill="#000"/>
<rect x="642" y="859.6" width="30.8" height="16.8" fill="#a00000"/>
<rect x="642" y="888.5" width="30.8" height="16.8" fill="#f1b67b"/>
<text x="686.3" y="849" font-size="20" text-anchor="start" >N2</text>
<text x="686.3" y="874.2" font-size="19.5" text-anchor="start" ><tspan font-style="italic">pld-1</tspan></text>
<text x="686.3" y="903.2" font-size="19.5" text-anchor="start" ><tspan font-style="italic">alh-6</tspan></text>
<text x="548" y="1111.7" font-size="20.7" text-anchor="middle" >Ethanol Concentration (mM)</text>
<text transform="translate(315.3,931) rotate(-90)" font-size="20.7" text-anchor="middle">Mean Speed (<tspan font-weight="normal">μ</tspan>m/s)</text>
<line x1="66.5" y1="292" x2="173" y2="292" stroke="#000" stroke-width="2.5"/>
<line x1="370.5" y1="292.2" x2="748" y2="292.2" stroke="#000" stroke-width="2.5"/>
<line x1="70.7" y1="651" x2="266" y2="651" stroke="#000" stroke-width="2.5"/>
<line x1="364.6" y1="651.2" x2="743" y2="651.2" stroke="#000" stroke-width="2.5"/>
<line x1="363.6" y1="1057.6" x2="741.3" y2="1057.6" stroke="#000" stroke-width="2.5"/>
</svg>
</body></html>
